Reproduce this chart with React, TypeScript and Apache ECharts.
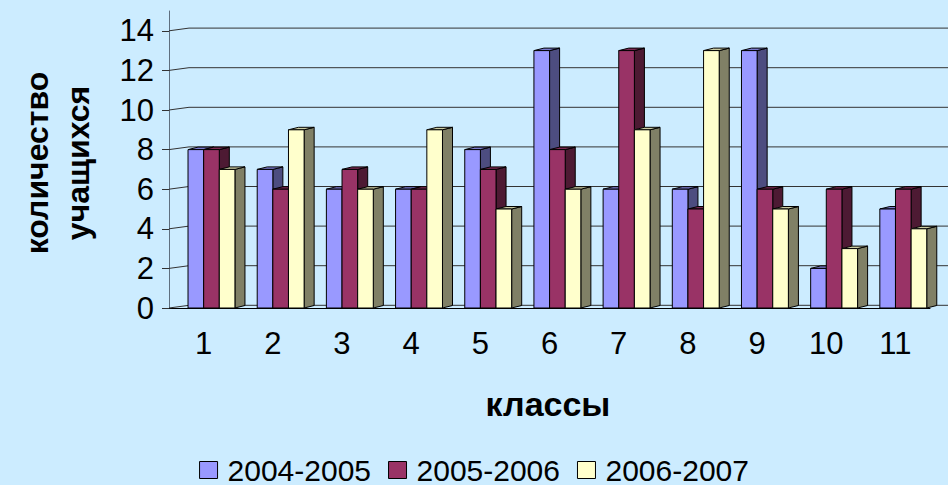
import React, { useEffect, useRef } from 'react';
import * as echarts from 'echarts';

const categories = ['1', '2', '3', '4', '5', '6', '7', '8', '9', '10', '11'];
const seriesNames = ['2004-2005', '2005-2006', '2006-2007'];
const values2004 = [8, 7, 6, 6, 8, 13, 6, 6, 13, 2, 5];
const values2005 = [8, 6, 7, 6, 7, 8, 13, 5, 6, 6, 6];
const values2006 = [7, 9, 6, 9, 5, 6, 9, 13, 5, 3, 4];
const yTicks = [0, 2, 4, 6, 8, 10, 12, 14];
const yTitle = 'количество\nучащихся';
const xTitle = 'классы';

const palette = [
  { front: '#9999FF', side: '#4D4D80', top: '#7A7ACC' },
  { front: '#993366', side: '#4D1A33', top: '#7A2952' },
  { front: '#FFFFCC', side: '#808066', top: '#CCCCA3' },
];

const FONT = '"Liberation Sans", Arial, sans-serif';

function makeBarRender(k: number) {
  const c = palette[k];
  return (params: any, api: any) => {
    const cat = api.value(0);
    const val = api.value(1);
    const p = api.coord([cat, val]);
    const b = api.coord([cat, 0]);
    const bw = api.size([1, 0])[0];
    const fw = bw * 0.226;
    const dx = bw * 0.145;
    const dy = -2.5;
    const x0 = p[0] - bw * 0.225 + k * fw;
    const x1 = x0 + fw;
    const yt = p[1];
    const yb = b[1];
    return {
      type: 'group',
      children: [
        {
          type: 'polygon',
          shape: { points: [[x1, yt], [x1 + dx, yt + dy], [x1 + dx, yb + dy], [x1, yb]] },
          style: { fill: c.side, stroke: '#000', lineWidth: 1 },
        },
        {
          type: 'polygon',
          shape: { points: [[x0, yt], [x0 + dx, yt + dy], [x1 + dx, yt + dy], [x1, yt]] },
          style: { fill: c.top, stroke: '#000', lineWidth: 1 },
        },
        {
          type: 'rect',
          shape: { x: x0, y: yt, width: fw, height: yb - yt },
          style: { fill: c.front, stroke: '#000', lineWidth: 1 },
        },
      ],
    };
  };
}

export default function App() {
  const ref = useRef<HTMLDivElement>(null);
  useEffect(() => {
    if (!ref.current) return;
    const chart = echarts.init(ref.current, null, { renderer: 'svg' });
    const allValues = [values2004, values2005, values2006];
    const option: any = {
      animation: false,
      backgroundColor: '#CCECFF',
      grid: { left: 169, right: 18, top: 11, bottom: 177, containLabel: false },
      legend: {
        left: 'center',
        top: 450,
        itemWidth: 18,
        itemHeight: 17,
        itemGap: 17,
        icon: 'rect',
        textStyle: { fontSize: 30, lineHeight: 30, fontFamily: FONT, color: '#000', padding: [0, 0, 0, 5] },
        data: seriesNames.map((n, k) => ({
          name: n,
          icon: 'rect',
          itemStyle: { color: palette[k].front, borderColor: '#000', borderWidth: 1 },
        })),
      },
      xAxis: {
        type: 'category',
        data: categories,
        axisLine: { show: true, lineStyle: { color: '#000', width: 1 } },
        axisTick: { show: false },
        axisLabel: { fontSize: 31, fontFamily: FONT, color: '#000', margin: 20 },
        splitLine: { show: false },
      },
      yAxis: {
        type: 'value',
        min: 0,
        max: 15,
        axisLine: { show: true, lineStyle: { color: '#5F6F7F', width: 1 } },
        axisTick: { show: true, length: 7, customValues: yTicks, lineStyle: { color: '#333' } },
        axisLabel: { fontSize: 31, fontFamily: FONT, color: '#000', margin: 15, customValues: yTicks },
        splitLine: { show: false },
      },
      graphic: [
        {
          type: 'text',
          x: 57,
          y: 163,
          rotation: Math.PI / 2,
          style: {
            text: yTitle,
            font: `bold 32px ${FONT}`,
            fill: '#000',
            textAlign: 'center',
            textVerticalAlign: 'middle',
            lineHeight: 41,
          },
        },
        {
          type: 'text',
          x: 548,
          y: 404,
          style: {
            text: xTitle,
            font: `bold 34px ${FONT}`,
            fill: '#000',
            textAlign: 'center',
            textVerticalAlign: 'middle',
          },
        },
      ],
      series: [
        {
          type: 'custom',
          name: 'grid',
          silent: true,
          z: 1,
          data: yTicks.map((v) => [0, v]),
          encode: { x: 0, y: 1 },
          renderItem: (params: any, api: any) => {
            const y = api.coord([0, api.value(1)])[1];
            const x0 = params.coordSys.x;
            const W = api.getWidth();
            return {
              type: 'polyline',
              shape: { points: [[x0, y], [x0 + 20, y - 2.7], [W, y - 2.7]] },
              style: { stroke: '#333', lineWidth: 1, fill: 'none' },
            };
          },
        },
        ...seriesNames.map((n, k) => ({
          type: 'custom',
          name: n,
          z: 2,
          itemStyle: { color: palette[k].front, borderColor: '#000' },
          data: allValues[k].map((v, i) => [i, v]),
          encode: { x: 0, y: 1 },
          renderItem: makeBarRender(k),
        })),
      ],
    };
    chart.setOption(option);
    return () => chart.dispose();
  }, []);
  return (
    <div
      ref={ref}
      style={{ position: 'fixed', left: 0, top: 0, width: 948, height: 485 }}
    />
  );
}
